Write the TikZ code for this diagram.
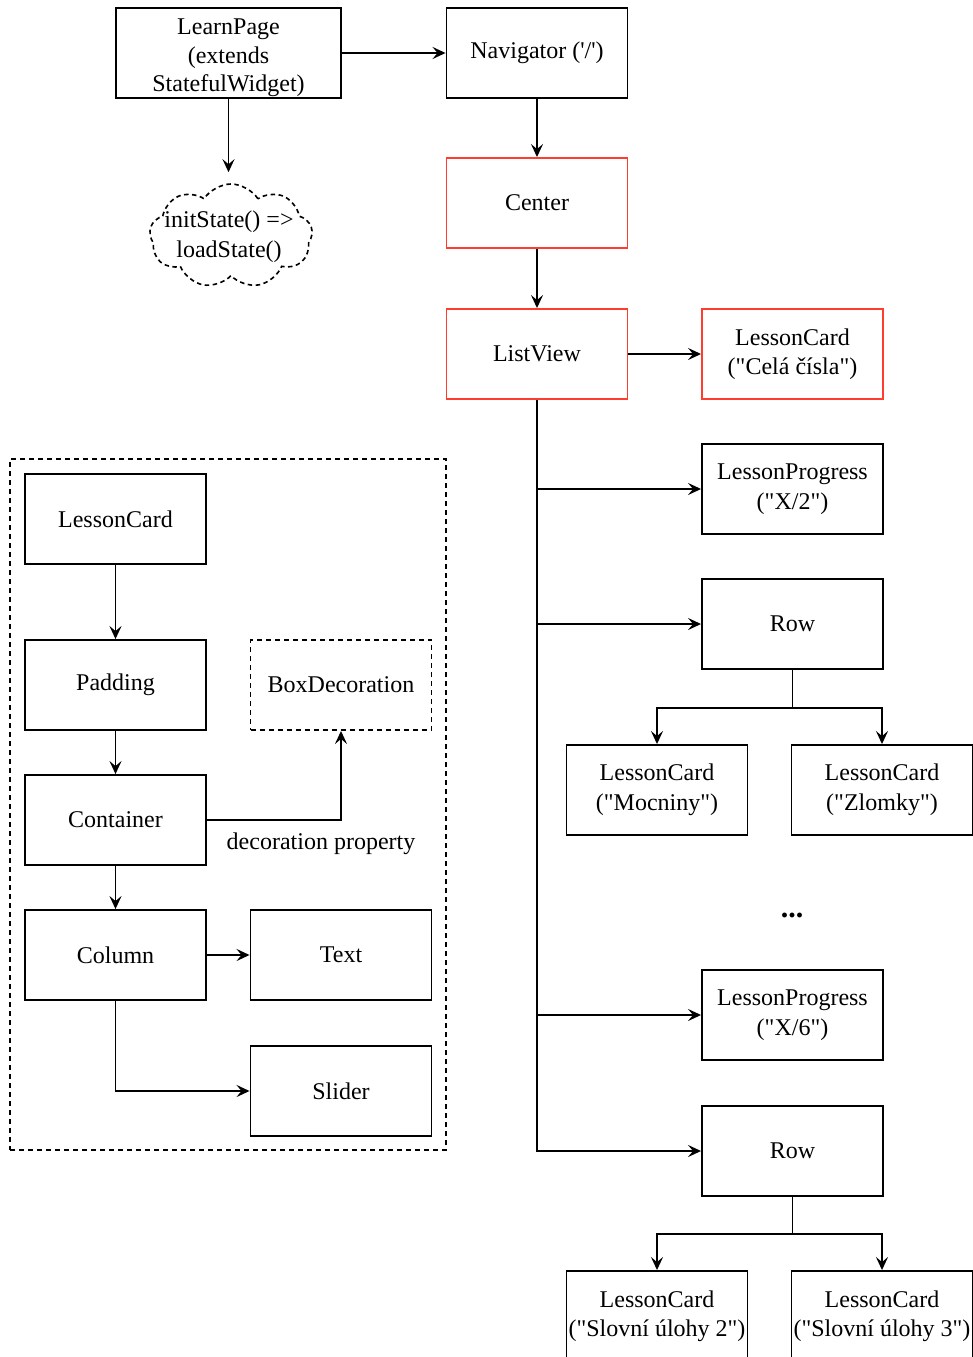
\documentclass[tikz,border=0pt]{standalone}
\usepackage{fontspec}
\setmainfont{Liberation Serif}[Ligatures=TeXOff]
\usetikzlibrary{arrows.meta,shapes.symbols}
\definecolor{hlred}{HTML}{FF3D2E}
\newcommand{\dq}{\char34\relax}
\newcommand{\sq}{\char39\relax}
\tikzset{
  box/.style={draw, line width=1.9pt, minimum width=181pt, minimum height=90pt, inner sep=0pt, align=center, font=\fontsize{24}{29.5}\selectfont},
  redbox/.style={box, draw=hlred},
  dbox/.style={box, dash pattern=on 5pt off 4pt},
  arr/.style={line width=1.9pt, -{Stealth[length=13pt,width=12pt,inset=5pt]}},
  plain/.style={font=\fontsize{24}{30}\selectfont, align=center, inner sep=0pt}
}
\begin{document}
\begin{tikzpicture}[x=1pt,y=-1pt]
\useasboundingbox (0,0) rectangle (972,1357);
% top
\node[box, minimum width=225pt, font=\fontsize{24}{28.5}\selectfont] (lp) at (228.5,53) {\rule{0pt}{26pt}LearnPage\\(extends\\StatefulWidget)};
\node[box] (nav) at (537,53) {Navigator (\sq/\sq)};
\node[cloud, draw, dash pattern=on 4.5pt off 3.5pt, line width=1.6pt, cloud puffs=9, cloud puff arc=115, aspect=1.55, minimum width=163pt, minimum height=104pt, inner sep=0pt] (cl) at (231,236) {};
\node[plain] (cltxt) at (229,237) {initState() =>\\loadState()};
\node[redbox] (cen) at (537,203) {Center};
\node[redbox] (lv) at (537,354) {ListView};
\node[redbox] (lcc) at (792.5,354) {LessonCard\\(\dq Celá čísla\dq)};
\node[box] (lp2) at (792.5,489) {LessonProgress\\(\dq X/2\dq)};
\node[box] (row1) at (792.5,624) {Row};
\node[box] (mocn) at (657,790) {LessonCard\\(\dq Mocniny\dq)};
\node[box] (zlom) at (882,790) {LessonCard\\(\dq Zlomky\dq)};
\node[plain, font=\fontsize{30}{30}\selectfont\bfseries] (dots) at (792,915) {...};
\node[box] (lp6) at (792.5,1015) {LessonProgress\\(\dq X/6\dq)};
\node[box] (row2) at (792.5,1151) {Row};
\node[box] (sl2) at (657,1316) {LessonCard\\(\dq Slovní úlohy 2\dq)};
\node[box] (sl3) at (882,1316) {LessonCard\\(\dq Slovní úlohy 3\dq)};
% left group
\node[draw, line width=1.7pt, dash pattern=on 5pt off 4pt, minimum width=436pt, minimum height=691pt, inner sep=0pt] (grp) at (228,804.5) {};
\node[box] (lc) at (115.5,519) {LessonCard};
\node[box] (pad) at (115.5,685) {Padding};
\node[dbox] (bdec) at (341,685) {BoxDecoration};
\node[box] (cont) at (115.5,820) {Container};
\node[box] (col) at (115.5,955) {Column};
\node[box] (txt) at (341,955) {Text};
\node[box] (sld) at (341,1091) {Slider};
\node[plain] (declbl) at (321,844) {decoration property};
% connectors
\draw[arr] (lp.east) -- (nav.west);
\draw[arr, shorten >=11pt] (lp.south) -- (lp.south |- cl.north);
\draw[arr] (nav.south) -- (cen.north);
\draw[arr] (cen.south) -- (lv.north);
\draw[arr] (lv.east) -- (lcc.west);
\draw[arr] (lv.south) |- (lp2.west);
\draw[arr] (lv.south) |- (row1.west);
\draw[arr] (lv.south) |- (lp6.west);
\draw[arr] (lv.south) |- (row2.west);
\draw[arr] (row1.south) -- ++(0,38) -| (mocn.north);
\draw[arr] (row1.south) -- ++(0,38) -| (zlom.north);
\draw[arr] (row2.south) -- ++(0,37) -| (sl2.north);
\draw[arr] (row2.south) -- ++(0,37) -| (sl3.north);
\draw[arr] (lc.south) -- (pad.north);
\draw[arr] (pad.south) -- (cont.north);
\draw[arr] (cont.south) -- (col.north);
\draw[arr] (cont.east) -| (bdec.south);
\draw[arr] (col.east) -- (txt.west);
\draw[arr] (col.south) |- (sld.west);
\end{tikzpicture}
\end{document}
